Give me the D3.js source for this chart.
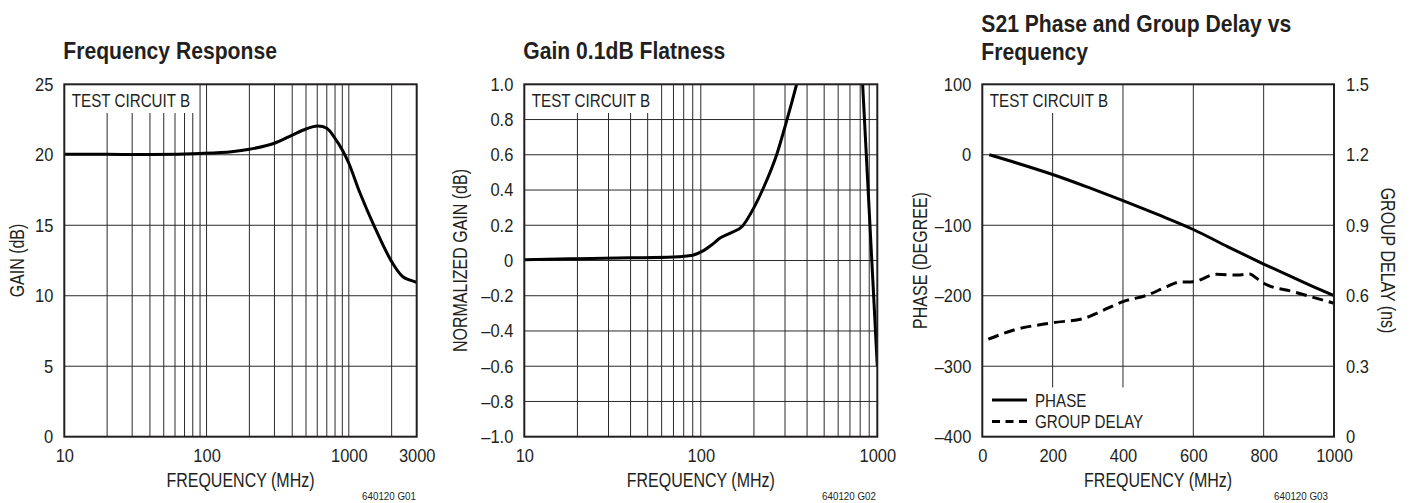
<!DOCTYPE html>
<html><head><meta charset="utf-8">
<script src="https://cdn.jsdelivr.net/npm/d3@7"></script>
<style>
body{margin:0;background:#fff;}
svg{display:block;}
text{font-family:'Liberation Sans',Arial,sans-serif;fill:#231f20;}
</style></head><body>
<svg id="chart" width="1412" height="503"></svg>
<script>
// ---------- Panel 1: Frequency Response ----------
const frTitle = ["Frequency Response"];
const frTickValuesX = [10, 100, 1000, 3000];
const frTickLabelsX = ["10", "100", "1000", "3000"];
const frTickValuesY = [0, 5, 10, 15, 20, 25];
const frTickLabelsY = ["0", "5", "10", "15", "20", "25"];
const frGridX = [20, 30, 40, 50, 60, 70, 80, 90, 100, 200, 300, 400, 500, 600, 700, 800, 900, 1000, 2000];
const frGridY = [5, 10, 15, 20];
const frFreq = [10, 20, 40, 70, 90, 150, 200, 300, 400, 500, 600, 700, 800, 900, 1000, 1200, 1500, 2000, 2400, 2900, 3000];
const frGain = [20.04, 20.03, 20.02, 20.05, 20.09, 20.22, 20.39, 20.82, 21.4, 21.83, 22.04, 21.88, 21.17, 20.34, 19.4, 17.27, 15.0, 12.42, 11.35, 11.0, 10.95];

// ---------- Panel 2: Gain 0.1dB Flatness ----------
const flTitle = ["Gain 0.1dB Flatness"];
const flTickValuesX = [10, 100, 1000];
const flTickLabelsX = ["10", "100", "1000"];
const flTickValuesY = [-1, -0.8, -0.6, -0.4, -0.2, 0, 0.2, 0.4, 0.6, 0.8, 1.0];
const flTickLabelsY = ["\u20131.0", "\u20130.8", "\u20130.6", "\u20130.4", "\u20130.2", "0", "0.2", "0.4", "0.6", "0.8", "1.0"];
const flGridX = [20, 30, 40, 50, 60, 70, 80, 90, 100, 200, 300, 400, 500, 600, 700, 800, 900];
const flGridY = [-0.8, -0.6, -0.4, -0.2, 0, 0.2, 0.4, 0.6, 0.8];
const flRiseFreq = [10, 20, 40, 70, 90, 101, 115, 128, 146, 172, 200, 226, 269, 304, 349, 370];
const flRiseGain = [0.004, 0.01, 0.015, 0.02, 0.03, 0.05, 0.088, 0.126, 0.154, 0.195, 0.30, 0.41, 0.60, 0.78, 1.0, 1.1];
const flDropFreq = [820, 1000];
const flDropGain = [1.06, -0.6];

// ---------- Panel 3: S21 Phase and Group Delay ----------
const s21Title = ["S21 Phase and Group Delay vs", "Frequency"];
const s21TickValuesX = [0, 200, 400, 600, 800, 1000];
const s21TickLabelsX = ["0", "200", "400", "600", "800", "1000"];
const s21TickValuesYL = [-400, -300, -200, -100, 0, 100];
const s21TickLabelsYL = ["\u2013400", "\u2013300", "\u2013200", "\u2013100", "0", "100"];
const s21TickValuesYR = [0, 0.3, 0.6, 0.9, 1.2, 1.5];
const s21TickLabelsYR = ["0", "0.3", "0.6", "0.9", "1.2", "1.5"];
const s21GridX = [200, 400, 600, 800];
const s21GridY = [-300, -200, -100, 0];
const phaseFreq = [20, 100, 200, 300, 400, 500, 600, 700, 800, 900, 1000];
const phaseDeg = [0, -12, -28, -46, -65, -85, -106, -131, -155, -178, -200];
const delayFreq = [17, 90, 200, 290, 335, 400, 470, 525, 560, 600, 665, 725, 760, 780, 800, 885, 1000];
const delayNs = [0.415, 0.454, 0.485, 0.504, 0.532, 0.575, 0.603, 0.639, 0.658, 0.66, 0.691, 0.688, 0.693, 0.674, 0.653, 0.617, 0.568];
const legendLabels = ["PHASE", "GROUP DELAY"];

const noteText = "TEST CIRCUIT B";
const svg = d3.select("#chart");
const TOP = 84.3, BOTTOM = 436.7;
const FONT = "'Liberation Sans',Arial,sans-serif";
const INK = "#231f20";

function zip(a, b) { return a.map((v, i) => [v, b[i]]); }

function styleAxis(g) {
  g.select(".domain").remove();
  g.attr("font-family", FONT).attr("font-size", 18.5);
  g.selectAll("text").attr("fill", INK).attr("data-sq", 0.89);
}

function drawPanel(cfg) {
  const g = svg.append("g");
  const { x, y, left, right } = cfg;
  g.selectAll(".gx").data(cfg.gridX).join("line")
    .attr("x1", d => x(d)).attr("x2", d => x(d))
    .attr("y1", TOP).attr("y2", BOTTOM)
    .attr("stroke", "#2a2a2a").attr("stroke-width", 1);
  g.selectAll(".gy").data(cfg.gridY).join("line")
    .attr("x1", left).attr("x2", right)
    .attr("y1", d => y(d)).attr("y2", d => y(d))
    .attr("stroke", "#2a2a2a").attr("stroke-width", 1);
  g.append("rect").attr("x", left).attr("y", TOP).attr("width", cfg.noteRight - left).attr("height", 113 - TOP).attr("fill", "#fff");
  g.append("text").attr("x", left + 7.5).attr("y", 106.5).attr("font-size", 18.5).text(noteText);
  g.append("g").attr("transform", `translate(0,${BOTTOM})`)
    .call(d3.axisBottom(x).tickValues(cfg.tickX).tickFormat((d, i) => cfg.tickLabelsX[i]).tickSize(0).tickPadding(12))
    .call(styleAxis);
  g.append("g").attr("transform", `translate(${left},0)`)
    .call(d3.axisLeft(y).tickValues(cfg.tickY).tickFormat((d, i) => cfg.tickLabelsY[i]).tickSize(0).tickPadding(11))
    .call(styleAxis);
  cfg.title.forEach((t, i) => {
    g.append("text").attr("x", left - 1).attr("y", cfg.titleY + i * 28.3)
      .attr("font-size", 24).attr("font-weight", "bold").attr("data-sq", 0.88).text(t);
  });
  g.append("text").attr("x", (left + right) / 2).attr("y", 487).attr("text-anchor", "middle")
    .attr("font-size", 19.5).text("FREQUENCY (MHz)");
  g.append("text").attr("transform", `translate(${cfg.yLabelX},${(TOP + BOTTOM) / 2}) rotate(-90)`)
    .attr("text-anchor", "middle").attr("font-size", 19.5).text(cfg.yLabel);
  g.append("text").attr("x", cfg.codeX).attr("y", 500).attr("text-anchor", "end")
    .attr("font-size", 11).attr("data-sq", 0.89).text(cfg.code);
  return g;
}

// ---------- Panel 1 ----------
{
  const left = 64.3, right = 416.7;
  const x = d3.scaleLog().domain([10, 3000]).range([left, right]);
  const y = d3.scaleLinear().domain([0, 25]).range([BOTTOM, TOP]);
  const g = drawPanel({ x, y, left, right, gridX: frGridX, gridY: frGridY, noteRight: 197,
    tickX: frTickValuesX, tickLabelsX: frTickLabelsX, tickY: frTickValuesY, tickLabelsY: frTickLabelsY,
    title: frTitle, titleY: 58.5, yLabel: "GAIN (dB)", yLabelX: 24, code: "640120 G01", codeX: 416 });
  g.append("path").datum(zip(frFreq, frGain))
    .attr("d", d3.line().x(d => x(d[0])).y(d => y(d[1])).curve(d3.curveCatmullRom.alpha(0.5)))
    .attr("fill", "none").attr("stroke", "#000").attr("stroke-width", 3);
  g.append("rect").attr("x", left).attr("y", TOP).attr("width", right - left).attr("height", BOTTOM - TOP)
    .attr("fill", "none").attr("stroke", INK).attr("stroke-width", 2);
}

// ---------- Panel 2 ----------
{
  const left = 524.3, right = 877.3;
  const x = d3.scaleLog().domain([10, 1000]).range([left, right]);
  const y = d3.scaleLinear().domain([-1, 1]).range([BOTTOM, TOP]);
  const g = drawPanel({ x, y, left, right, gridX: flGridX, gridY: flGridY, noteRight: 655,
    tickX: flTickValuesX, tickLabelsX: flTickLabelsX, tickY: flTickValuesY, tickLabelsY: flTickLabelsY,
    title: flTitle, titleY: 58.5, yLabel: "NORMALIZED GAIN (dB)", yLabelX: 467, code: "640120 G02", codeX: 876 });
  svg.append("defs").append("clipPath").attr("id", "clip2")
    .append("rect").attr("x", left).attr("y", TOP).attr("width", right - left).attr("height", BOTTOM - TOP);
  const line = d3.line().x(d => x(d[0])).y(d => y(d[1])).curve(d3.curveMonotoneX);
  const cg = g.append("g").attr("clip-path", "url(#clip2)");
  cg.append("path").datum(zip(flRiseFreq, flRiseGain)).attr("d", line)
    .attr("fill", "none").attr("stroke", "#000").attr("stroke-width", 3);
  cg.append("path").datum(zip(flDropFreq, flDropGain)).attr("d", d3.line().x(d => x(d[0])).y(d => y(d[1])))
    .attr("fill", "none").attr("stroke", "#000").attr("stroke-width", 3);
  g.append("rect").attr("x", left).attr("y", TOP).attr("width", right - left).attr("height", BOTTOM - TOP)
    .attr("fill", "none").attr("stroke", INK).attr("stroke-width", 2);
}

// ---------- Panel 3 ----------
{
  const left = 982.3, right = 1334;
  const x = d3.scaleLinear().domain([0, 1000]).range([left, right]);
  const y = d3.scaleLinear().domain([-400, 100]).range([BOTTOM, TOP]);
  const y2 = d3.scaleLinear().domain([0, 1.5]).range([BOTTOM, TOP]);
  const g = drawPanel({ x, y, left, right, gridX: s21GridX, gridY: s21GridY, noteRight: 1113,
    tickX: s21TickValuesX, tickLabelsX: s21TickLabelsX, tickY: s21TickValuesYL, tickLabelsY: s21TickLabelsYL,
    title: s21Title, titleY: 31.7, yLabel: "PHASE (DEGREE)", yLabelX: 927, code: "640120 G03", codeX: 1328 });
  g.append("g").attr("transform", `translate(${right},0)`)
    .call(d3.axisRight(y2).tickValues(s21TickValuesYR).tickFormat((d, i) => s21TickLabelsYR[i]).tickSize(0).tickPadding(12))
    .call(styleAxis);
  g.append("text").attr("transform", `translate(1381,${(TOP + BOTTOM) / 2}) rotate(90)`)
    .attr("text-anchor", "middle").attr("font-size", 19.5).text("GROUP DELAY (ns)");
  g.append("rect").attr("x", left).attr("y", 387.5).attr("width", 1150 - left).attr("height", BOTTOM - 387.5).attr("fill", "#fff");
  g.append("path").datum(zip(phaseFreq, phaseDeg))
    .attr("d", d3.line().x(d => x(d[0])).y(d => y(d[1])).curve(d3.curveCatmullRom.alpha(0.5)))
    .attr("fill", "none").attr("stroke", "#000").attr("stroke-width", 3);
  g.append("path").datum(zip(delayFreq, delayNs))
    .attr("d", d3.line().x(d => x(d[0])).y(d => y2(d[1])).curve(d3.curveMonotoneX))
    .attr("fill", "none").attr("stroke", "#000").attr("stroke-width", 3).attr("stroke-dasharray", "11,6");
  const lg = g.append("g");
  legendLabels.forEach((lab, i) => {
    const ly = 400 + i * 21.5;
    lg.append("line").attr("x1", 992).attr("x2", 1027).attr("y1", ly).attr("y2", ly)
      .attr("stroke", "#000").attr("stroke-width", 3)
      .attr("stroke-dasharray", i === 1 ? "8,5.5" : null);
    lg.append("text").attr("x", 1035).attr("y", ly + 6.7).attr("font-size", 18.5).text(lab);
  });
  g.append("rect").attr("x", left).attr("y", TOP).attr("width", right - left).attr("height", BOTTOM - TOP)
    .attr("fill", "none").attr("stroke", INK).attr("stroke-width", 2);
}

// condense text horizontally to mimic the narrow typeface of the original
svg.selectAll("text").each(function () {
  const f = +this.getAttribute("data-sq") || 0.82;
  const w = this.getComputedTextLength();
  this.setAttribute("textLength", (w * f).toFixed(1));
  this.setAttribute("lengthAdjust", "spacingAndGlyphs");
});
</script>
</body></html>
